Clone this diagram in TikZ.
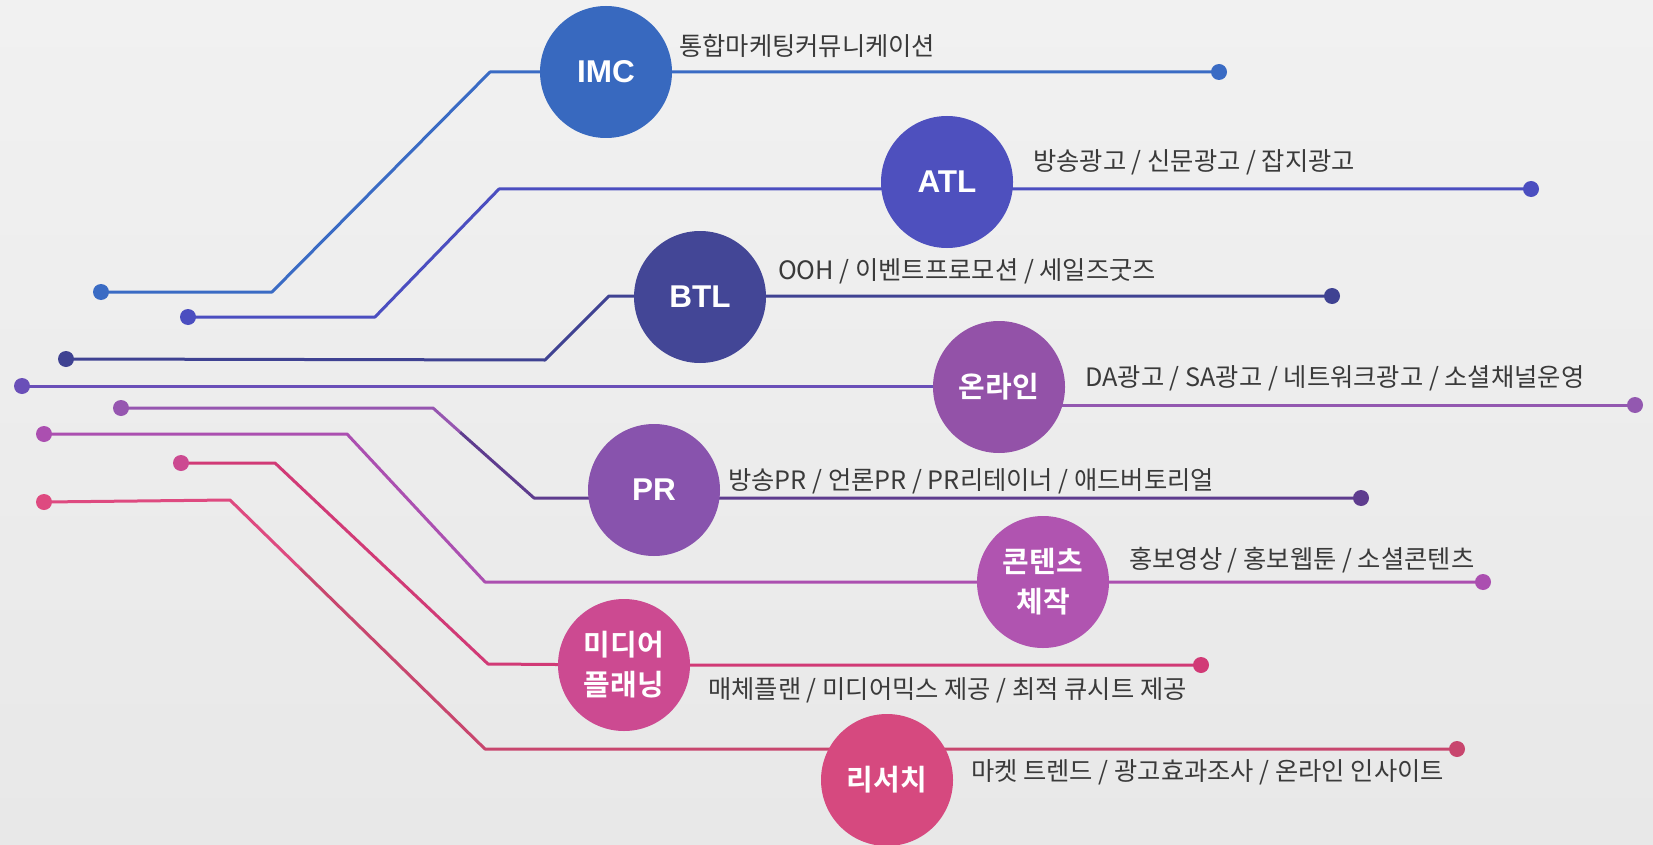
\documentclass[tikz,border=0pt]{standalone}
\usepackage{fontspec}
\setmainfont{Noto Sans CJK KR}
\newfontfamily\descfont{Noto Sans CJK KR}
\newfontfamily\hubkfont{Noto Sans CJK KR Bold}
\newfontfamily\hublfont{Liberation Sans Bold}
\definecolor{bgA}{HTML}{F1F1F1}
\definecolor{bgB}{HTML}{E8E8E8}
\definecolor{txtc}{HTML}{3A3A3A}
\definecolor{imcC}{HTML}{3869BF}
\definecolor{atlC}{HTML}{4E50BE}
\definecolor{btlC}{HTML}{434696}
\definecolor{onC}{HTML}{9352A8}
\definecolor{prC}{HTML}{8853AD}
\definecolor{ctC}{HTML}{B054B0}
\definecolor{mdC}{HTML}{CC4A91}
\definecolor{rsC}{HTML}{D6497F}
\definecolor{imcW}{HTML}{3A6BC4}
\definecolor{atlW}{HTML}{4B4EC0}
\definecolor{btlW}{HTML}{3F4292}
\definecolor{onWL}{HTML}{6A4FB8}
\definecolor{onWR}{HTML}{9358B0}
\definecolor{prW}{HTML}{5E3C8E}
\definecolor{prWL}{HTML}{9656B0}
\definecolor{ctW}{HTML}{AB4FB0}
\definecolor{mdW}{HTML}{D13A76}
\definecolor{rsW}{HTML}{C8466E}
\definecolor{rsWL}{HTML}{DE4A80}
\pgfdeclarelayer{bglayer}
\pgfdeclarelayer{wirelayer}
\pgfsetlayers{bglayer,wirelayer,main}
\begin{document}
\begin{tikzpicture}[x=1pt,y=-1pt,
  hub/.style={circle, minimum size=132pt, inner sep=0pt, text=white, align=center},
  hubL/.style={hub, font=\hublfont\fontsize{31.5}{36}\selectfont},
  hubK/.style={hub, font=\hubkfont\fontsize{29}{40}\selectfont},
  desc/.style={anchor=west, inner sep=0pt, text=txtc, font=\descfont\fontsize{25.3}{28}\selectfont},
  dotn/.style={circle, minimum size=16pt, inner sep=0pt},
  wire/.style={line width=3pt, line join=round}]
\begin{pgfonlayer}{bglayer}
\shade[top color=bgA, bottom color=bgB] (0,0) rectangle (1653,845);
\end{pgfonlayer}
\useasboundingbox (0,0) rectangle (1653,845);

% end dots
\node[dotn, fill=imcW] (imcL) at (101,292) {};
\node[dotn, fill=imcW] (imcR) at (1219,72) {};
\node[dotn, fill=atlW] (atlL) at (188,317) {};
\node[dotn, fill=atlW] (atlR) at (1531,189) {};
\node[dotn, fill=btlW] (btlL) at (66,359) {};
\node[dotn, fill=btlW] (btlR) at (1332,296) {};
\node[dotn, fill=onWL] (onL) at (22,386) {};
\node[dotn, fill=onWR] (onR) at (1635,405) {};
\node[dotn, fill=prWL] (prL) at (121,408) {};
\node[dotn, fill=prW] (prR) at (1361,498) {};
\node[dotn, fill=ctW] (ctL) at (44,434) {};
\node[dotn, fill=ctW] (ctR) at (1483,582) {};
\node[dotn, fill=mdC] (mdL) at (181,463) {};
\node[dotn, fill=mdW] (mdR) at (1201,665) {};
\node[dotn, fill=rsWL] (rsL) at (44,502) {};
\node[dotn, fill=rsW] (rsR) at (1457,749) {};

% hubs
\node[hubL, fill=imcC] (imc) at (606,72) {IMC};
\node[hubL, fill=atlC] (atl) at (947,182) {ATL};
\node[hubL, fill=btlC] (btl) at (700,297) {BTL};
\node[hubK, fill=onC] (on) at (999,387) {온라인};
\node[hubL, fill=prC] (pr) at (654,490) {PR};
\node[hubK, fill=ctC] (ct) at (1043,582) {콘텐츠\\체작};
\node[hubK, fill=mdC] (md) at (624,665) {미디어\\플래닝};
\node[hubK, fill=rsC] (rs) at (887,780) {리서치};

% connectors, behind hubs and dots
\begin{pgfonlayer}{wirelayer}
\draw[wire, imcW] (imcL.center) -- (272,292) -- (490,72) -- (imc.center) -- (imcR.center);
\draw[wire, atlW] (atlL.center) -- (375,317) -- (499,189) -- (atl.center |- atlR.center) -- (atlR.center);
\draw[wire, btlW] (btlL.center) -- (545,360) -- (609,296) -- (btl.center |- btlR.center) -- (btlR.center);
\draw[wire, onWL] (onL.center) -- (on.center |- onL.center);
\draw[wire, onWR] (on.center |- onR.center) -- (onR.center);
\draw[wire, prWL] (prL.center) -- (433,408) -- (460,432.1);
\draw[wire, prW] (460,432.1) -- (534,498) -- (pr.center |- prR.center) -- (prR.center);
\draw[wire, ctW] (ctL.center) -- (347,434) -- (485,582) -- (ct.center) -- (ctR.center);
\draw[wire, mdW] (mdL.center) -- (275,463) -- (488,664) -- (md.center |- mdR.center) -- (mdR.center);
\draw[wire, rsWL] (rsL.center) -- (230,500) -- (300,568.3);
\draw[wire, rsW] (300,568.3) -- (485,749) -- (rs.center |- rsR.center) -- (rsR.center);
\end{pgfonlayer}

% descriptions
\node[desc] (imcT) at (679,46) {통합마케팅커뮤니케이션};
\node[desc] (atlT) at (1033,162) {방송광고 / 신문광고 / 잡지광고};
\node[desc] (btlT) at (778,271) {OOH / 이벤트프로모션 / 세일즈굿즈};
\node[desc] (onT) at (1085,378) {DA광고 / SA광고 / 네트워크광고 / 소셜채널운영};
\node[desc] (prT) at (728,481) {방송PR / 언론PR / PR리테이너 / 애드버토리얼};
\node[desc] (ctT) at (1129,560) {홍보영상 / 홍보웹툰 / 소셜콘텐츠};
\node[desc] (mdT) at (708,690) {매체플랜 / 미디어믹스 제공 / 최적 큐시트 제공};
\node[desc] (rsT) at (971,772) {마켓 트렌드 / 광고효과조사 / 온라인 인사이트};
\end{tikzpicture}
\end{document}
